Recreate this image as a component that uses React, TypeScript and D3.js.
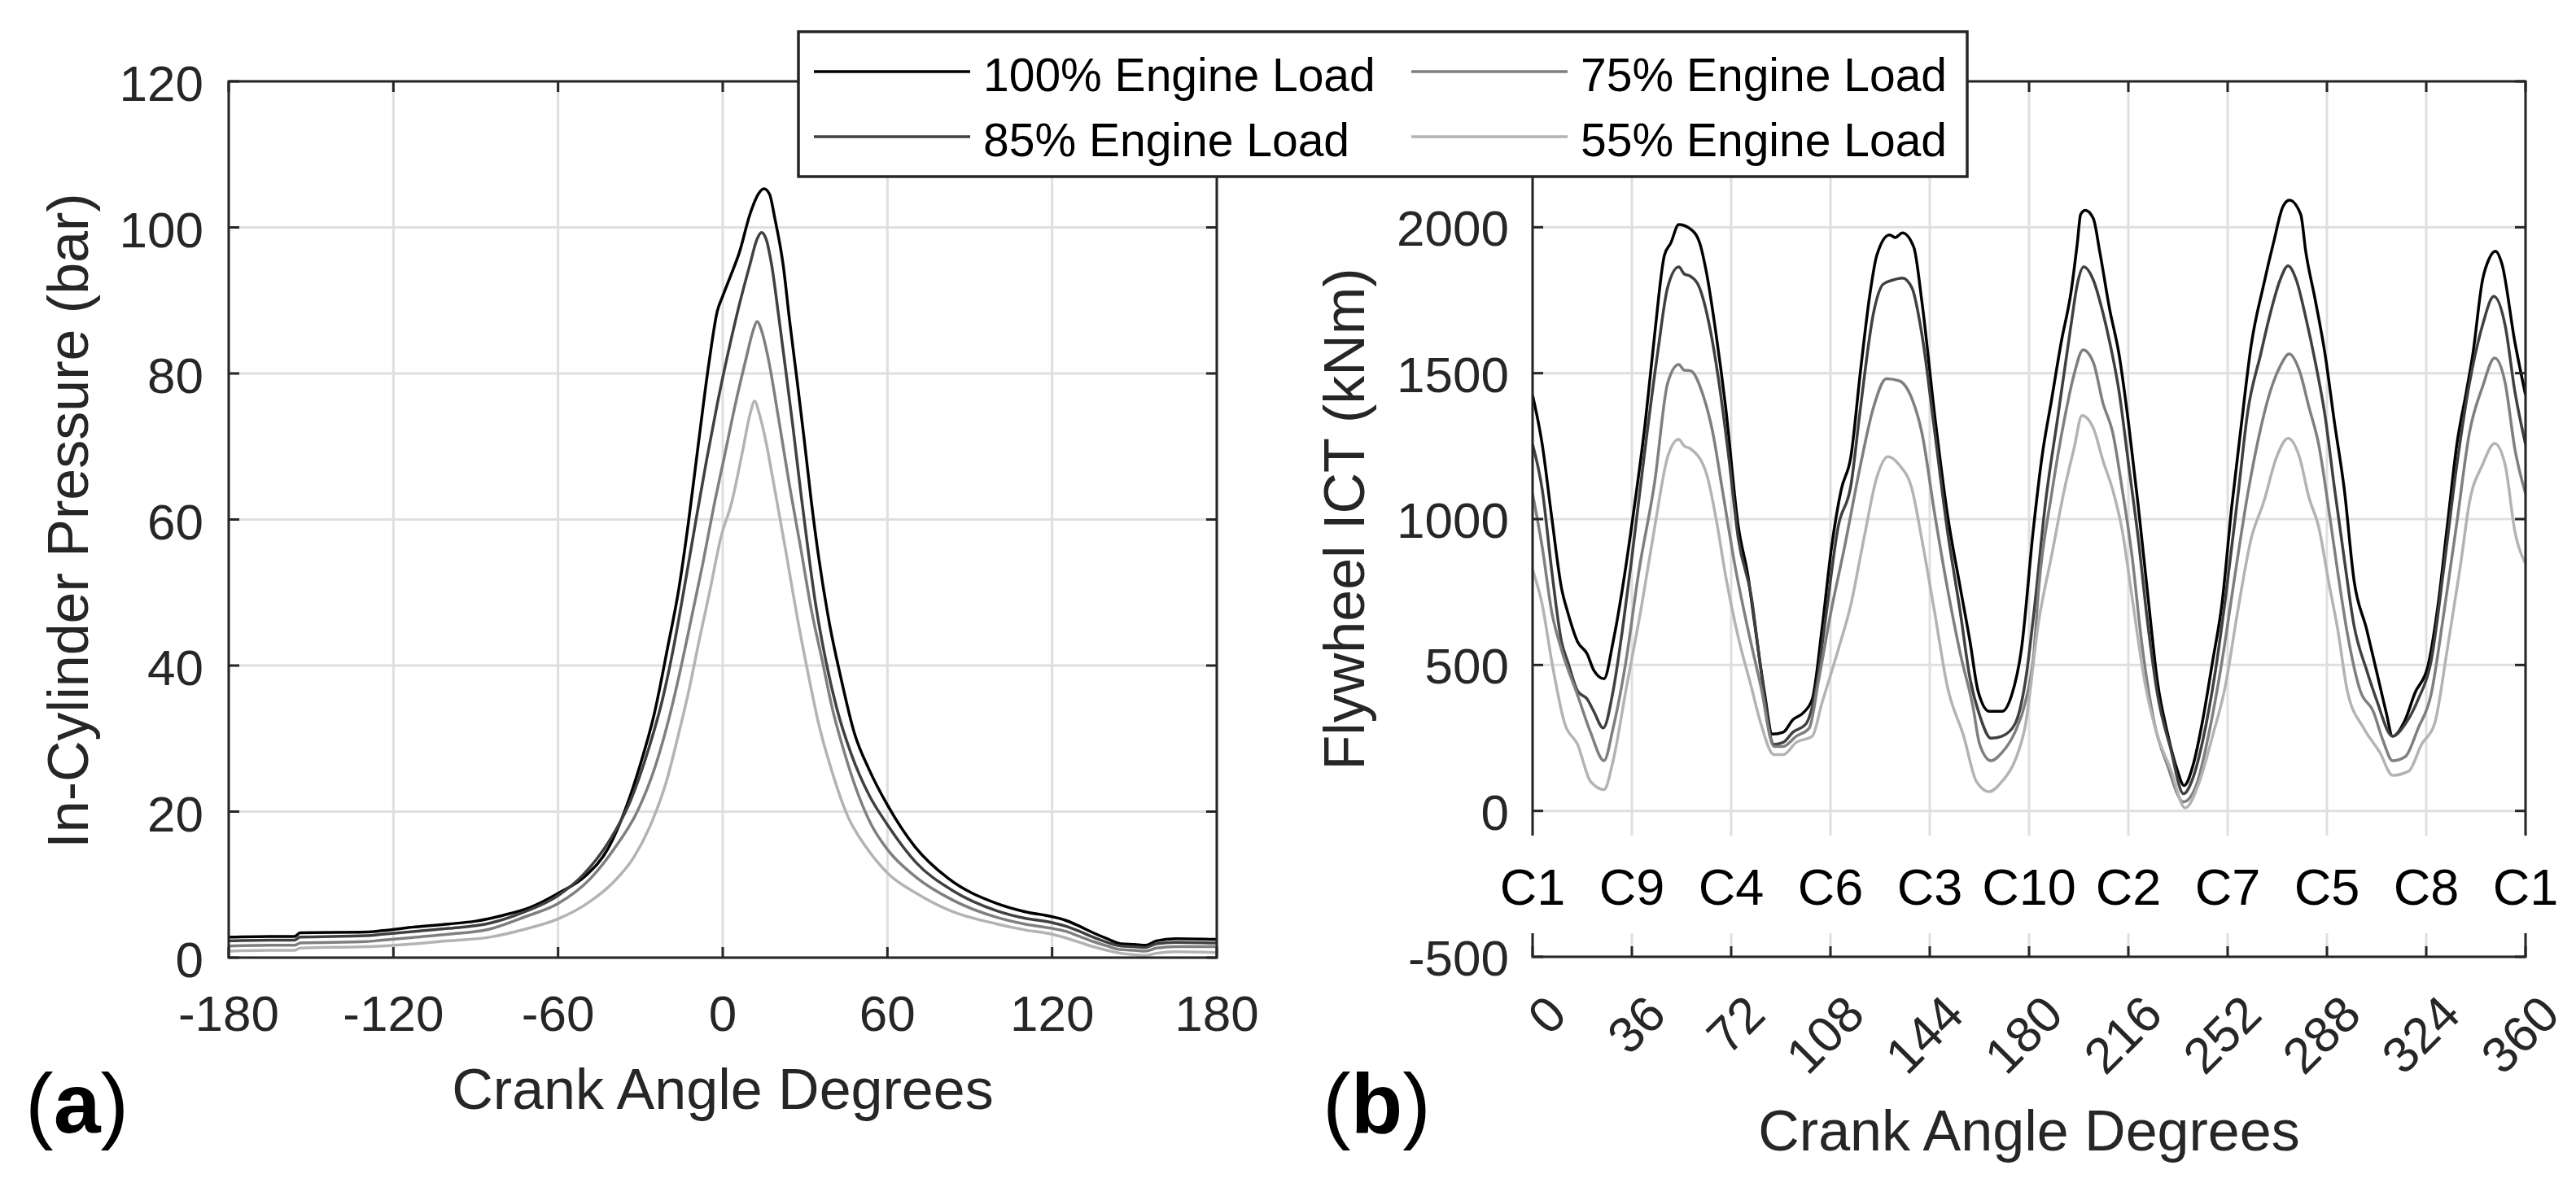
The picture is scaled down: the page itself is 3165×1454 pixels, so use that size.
import React from 'react';
import * as d3 from 'd3';

const W = 3165;
const H = 1454;
const FONT = '"Liberation Sans", Arial, Helvetica, sans-serif';
const AX = '#262626';
const GRID = '#dfdfdf';

// ---------- legend / series ----------
const loadNames = ['100% Engine Load', '85% Engine Load', '75% Engine Load', '55% Engine Load'];
const loadColors = ['#000000', '#404040', '#7f7f7f', '#b3b3b3'];

// ---------- panel (a): in-cylinder pressure (bar) vs crank angle ----------
const angleTicksA = [-180, -120, -60, 0, 60, 120, 180];
const pressureTicks = [0, 20, 40, 60, 80, 100, 120];

const pressure100: [number, number][] = [
  [-180, 2.8], [-165, 2.9], [-156, 2.9], [-154, 3.4], [-130, 3.5], [-124, 3.7], [-112, 4.2], [-100, 4.6],
  [-90, 5.0], [-80, 5.8], [-70, 6.9], [-60, 8.8], [-50, 11.2], [-42, 14.8], [-35, 20.8], [-30, 26.5],
  [-25, 33.3], [-20, 42.6], [-16, 50.5], [-12.5, 59.6], [-9, 70], [-5, 81.5], [-2, 88.5], [0, 90.6],
  [3, 93.5], [6, 96.5], [10, 101.9], [13, 104.6], [15, 105.3], [17, 104.6], [19, 101.2], [22, 94.9],
  [24.4, 87.1], [27, 79.3], [29.7, 70.9], [32.3, 62.4], [35, 54.7], [39, 45.5], [43, 38.4], [48, 30.7],
  [53.4, 25.7], [60, 20.9], [70, 15.2], [82, 10.9], [100, 7.4], [110, 6.3], [120, 5.6], [125, 5.1],
  [130, 4.3], [135, 3.4], [140, 2.6], [145, 1.9], [150, 1.8], [154, 1.7], [158, 2.3], [165, 2.6], [180, 2.5],
];
const pressure85: [number, number][] = [
  [-180, 2.3], [-165, 2.4], [-156, 2.4], [-154, 2.8], [-130, 3.0], [-124, 3.2], [-112, 3.6], [-100, 4.0],
  [-85, 4.7], [-72, 6.3], [-60, 8.5], [-51, 11.3], [-41.5, 15.9], [-33.6, 21.5], [-27, 28.6], [-21.8, 35.6],
  [-17.8, 42.7], [-13.8, 51.1], [-9.9, 59.6], [-5.9, 68.1], [-2, 75.8], [2, 82.9], [5.9, 89.2], [9.9, 94.9],
  [12.5, 98.4], [14.1, 99.3], [15.8, 98.4], [17.8, 94.9], [20.4, 87.8], [23.1, 80], [25.7, 72.3], [28.4, 63.8],
  [31, 56.1], [33.6, 49], [37.6, 40.6], [41.5, 34.2], [46.8, 27.9], [53.4, 22.2], [60, 18.2], [70.5, 13],
  [83.7, 9.2], [100, 6.4], [110, 5.4], [120, 4.8], [125, 4.3], [130, 3.6], [135, 2.8], [140, 2.1],
  [145, 1.6], [150, 1.5], [154, 1.4], [158, 1.9], [165, 2.1], [180, 2.0],
];
const pressure75: [number, number][] = [
  [-180, 1.6], [-165, 1.7], [-156, 1.7], [-154, 2.0], [-130, 2.2], [-124, 2.4], [-112, 2.8], [-100, 3.2],
  [-85, 3.9], [-72, 5.6], [-60, 7.4], [-48, 10.9], [-39, 15.2], [-31, 20.1], [-24.4, 26.4], [-19.1, 33.5],
  [-15.2, 39.8], [-11.2, 46.9], [-7.3, 53.9], [-3.3, 61.7], [0.7, 68.8], [4.6, 75.8], [8.6, 82.2], [11, 85.8],
  [12.5, 87.1], [14.2, 85.8], [16.5, 82.2], [20.4, 73.7], [24.4, 64.5], [28.4, 56.1], [32.3, 47.6], [36.3, 40.6],
  [40, 34], [44, 28.5], [49.5, 22.2], [54, 18.3], [60, 14.8], [70.5, 11], [83.7, 7.9], [100, 5.5],
  [110, 4.6], [120, 4.0], [125, 3.6], [130, 2.9], [135, 2.2], [140, 1.6], [145, 1.1], [150, 1.0],
  [154, 0.9], [158, 1.3], [165, 1.5], [180, 1.5],
];
const pressure55: [number, number][] = [
  [-180, 0.9], [-165, 1.0], [-156, 1.0], [-154, 1.3], [-130, 1.5], [-124, 1.6], [-112, 1.9], [-100, 2.3],
  [-85, 2.8], [-72, 3.9], [-60, 5.3], [-49.5, 7.4], [-40.2, 10.2], [-32.3, 13.8], [-25.7, 18.7], [-20.4, 24.3],
  [-16.5, 30], [-12.5, 36.3], [-8.6, 43.4], [-4.6, 50.4], [-0.7, 57.5], [3.3, 62.4], [7.3, 69.5], [10, 74.5],
  [11.6, 76.2], [13.3, 74.5], [15.2, 71.6], [19.1, 63.8], [23.1, 55.4], [27, 46.9], [31, 39.1], [34.9, 32.1],
  [40.2, 25], [45.5, 19.4], [52.1, 15.2], [60, 11.6], [70.6, 8.8], [83.7, 6.3], [100, 4.6], [110, 3.8],
  [120, 3.2], [125, 2.7], [130, 2.1], [135, 1.5], [140, 1.0], [145, 0.6], [150, 0.4], [154, 0.3],
  [158, 0.6], [165, 0.8], [180, 0.7],
];

// ---------- panel (b): flywheel ICT (kNm) vs crank angle ----------
const angleTicksB = [0, 36, 72, 108, 144, 180, 216, 252, 288, 324, 360];
const torqueTicks = [-500, 0, 500, 1000, 1500, 2000, 2500];
const cylinderLabels = ['C1', 'C9', 'C4', 'C6', 'C3', 'C10', 'C2', 'C7', 'C5', 'C8', 'C1'];

const torque100: [number, number][] = [
  [0, 1425], [3.5, 1256], [7, 1002], [10.5, 763], [12.8, 679], [16.3, 580], [19.8, 538], [22.2, 482],
  [25.9, 453], [29.2, 580], [32.6, 763], [36.1, 988], [40.8, 1326], [44.3, 1636], [47.8, 1904], [50.1, 1946],
  [53, 2009], [57.1, 1995], [60.6, 1946], [63, 1847], [66.5, 1636], [70, 1383], [74.6, 974], [78.1, 805],
  [80.4, 650], [84, 411], [86.9, 263], [90.9, 270], [94.4, 313], [97.9, 334], [101.4, 383], [104.9, 622],
  [108.4, 904], [111.9, 1101], [115.4, 1214], [118.9, 1509], [122.4, 1777], [124.8, 1904], [129.4, 1974],
  [131.5, 1965], [134.1, 1981], [138.2, 1932], [141.1, 1749], [145.8, 1355], [150.4, 1017], [155.1, 763],
  [158.6, 580], [161.5, 411], [165.6, 341], [170.2, 341], [173.7, 397], [177.2, 552], [181.5, 960],
  [184.7, 1214], [188.2, 1411], [191.7, 1608], [195.2, 1777], [197.5, 1946], [198.7, 2044], [200.4, 2058],
  [203.3, 2030], [205.6, 1918], [209.2, 1720], [212.6, 1566], [216.1, 1326], [219.6, 1044], [223.1, 735],
  [226.6, 439], [230.1, 270], [233.6, 144], [236.2, 87], [239.5, 158], [243, 313], [246.5, 510], [249.9, 707],
  [253.5, 1044], [257, 1326], [260.5, 1594], [265.1, 1805], [268.6, 1946], [272.1, 2072], [274.4, 2093],
  [278.5, 2044], [280.3, 1918], [283.8, 1749], [287.3, 1566], [290.8, 1326], [294.3, 1101], [297.8, 791],
  [302.4, 622], [305.9, 482], [309.4, 341], [311.8, 256], [316.4, 313], [319.9, 404], [324.6, 496],
  [328.1, 693], [331.6, 974], [335.1, 1256], [338.6, 1439], [340.9, 1566], [344.4, 1819], [346.7, 1890],
  [349.1, 1918], [351.4, 1876], [356.1, 1608], [360, 1425],
];
const torque85: [number, number][] = [
  [0, 1256], [3.5, 1101], [7, 819], [10.5, 580], [12.8, 510], [16.3, 411], [19.8, 383], [22.2, 341],
  [25.6, 284], [29.2, 411], [32.6, 622], [36.1, 876], [40.8, 1242], [45.5, 1580], [48.9, 1791], [53, 1864],
  [55, 1840], [57.1, 1833], [60.6, 1791], [64.1, 1664], [67.6, 1467], [71.1, 1214], [74.6, 932], [79.3, 735],
  [82.8, 482], [87.5, 228], [90.9, 235], [94.4, 270], [99.1, 298], [102.6, 411], [106.1, 650], [110.8, 974],
  [115.4, 1115], [118.9, 1383], [123.6, 1706], [127.1, 1805], [130.6, 1819], [134.1, 1826], [137.6, 1791],
  [141.1, 1636], [145.8, 1298], [150.4, 960], [155.1, 679], [158.6, 453], [162.1, 327], [166.2, 249],
  [170.2, 256], [174.9, 298], [178.6, 440], [182, 700], [185.8, 1044], [190.5, 1355], [195.2, 1664],
  [197.5, 1805], [199.8, 1864], [203.3, 1819], [206.8, 1706], [209.2, 1608], [212.6, 1439], [216.1, 1186],
  [219.6, 932], [223.1, 636], [226.6, 397], [231.3, 214], [236, 59], [239.5, 115], [243, 242], [247.6, 482],
  [251.1, 721], [255.8, 1087], [259.3, 1369], [264, 1566], [267.5, 1706], [271, 1819], [273.9, 1868],
  [276.9, 1819], [280.3, 1692], [283.8, 1537], [287.3, 1355], [290.8, 1101], [294.3, 862], [297.8, 636],
  [302.4, 482], [305.9, 383], [311.8, 256], [316.4, 298], [321.1, 383], [325.7, 510], [330.4, 834],
  [335.1, 1186], [339.7, 1467], [344.4, 1664], [348.5, 1763], [352.6, 1664], [356.1, 1439], [360, 1256],
];
const torque75: [number, number][] = [
  [0, 1087], [3.5, 904], [7, 679], [10.5, 552], [16.3, 397], [21, 270], [25.9, 172], [29.2, 284],
  [33.8, 510], [38.5, 819], [44.3, 1129], [49, 1467], [53, 1530], [55, 1510], [57.1, 1509], [61.8, 1425],
  [65.3, 1298], [68.8, 1101], [73.5, 834], [78.1, 622], [82.8, 425], [87.5, 221], [90.9, 221], [95.6, 256],
  [100.3, 284], [103.8, 453], [108.4, 693], [113.1, 904], [118.9, 1186], [123.6, 1383], [128.3, 1481],
  [132.9, 1474], [137.6, 1411], [141.1, 1298], [145.8, 1017], [150.4, 763], [155.1, 538], [159.7, 355],
  [162.1, 228], [166.2, 172], [170.2, 200], [174.9, 270], [178.6, 370], [181.7, 538], [183.5, 763],
  [188.2, 1087], [192.8, 1341], [196.3, 1495], [199.6, 1580], [203.3, 1537], [206.8, 1397], [210.3, 1298],
  [213.8, 1101], [217.3, 876], [220.8, 580], [225.5, 298], [230.1, 158], [236, 31], [240.6, 87], [245.3, 270],
  [249.9, 510], [254.6, 805], [259.3, 1087], [264, 1312], [267.5, 1439], [271, 1523], [274.3, 1566],
  [278, 1509], [281.5, 1383], [285, 1256], [288.5, 1044], [291.9, 819], [295.4, 608], [300.1, 411],
  [304.8, 341], [308.3, 242], [311.8, 172], [316.4, 186], [321.1, 284], [325.7, 397], [330.4, 679],
  [335.1, 988], [339.7, 1298], [344.4, 1453], [348.8, 1552], [352.6, 1467], [356.1, 1242], [360, 1087],
];
const torque55: [number, number][] = [
  [0, 826], [3.5, 707], [7, 510], [11.7, 298], [16.3, 228], [21, 101], [25.9, 73], [29.2, 172],
  [33.8, 411], [39.6, 707], [44.3, 974], [49, 1214], [53, 1273], [55, 1250], [57.1, 1242], [63, 1157],
  [66.5, 1003], [70, 805], [74.6, 594], [79.3, 425], [82.8, 298], [87.5, 193], [90.9, 193], [95.6, 235],
  [101.4, 256], [104.9, 369], [110.8, 552], [115.4, 707], [120.1, 932], [124.8, 1143], [128.8, 1214],
  [132.9, 1186], [137.6, 1101], [141.1, 932], [145.8, 679], [150.4, 425], [156.3, 256], [160.9, 101],
  [165.6, 66], [170.2, 101], [174.9, 172], [178.6, 290], [183.5, 650], [188.2, 876], [192.8, 1101],
  [196.3, 1242], [199.2, 1355], [203.3, 1312], [206.8, 1200], [210.3, 1101], [213.8, 960], [217.3, 735],
  [222, 439], [226.6, 256], [231.3, 144], [236.6, 10], [241.8, 101], [246.5, 256], [251.1, 425], [255.8, 693],
  [260.5, 932], [265.1, 1059], [269.8, 1214], [273.9, 1277], [278, 1214], [281.5, 1073], [285, 974],
  [288.5, 791], [291.9, 622], [295.4, 411], [301.3, 284], [307.2, 200], [311.8, 122], [317.6, 136],
  [322.3, 228], [327, 298], [331.6, 552], [336.3, 834], [339.7, 1059], [344.4, 1186], [348.8, 1259],
  [352.6, 1186], [356.1, 960], [360, 847],
];

const pressureSeries = [pressure100, pressure85, pressure75, pressure55];
const torqueSeries = [torque100, torque85, torque75, torque55];

// ---------- geometry ----------
const A = { left: 281, right: 1495, top: 100, bottom: 1177 };
const B = { left: 1883, right: 3103, top: 100, bottom: 1176 };
const TICK = 13;
const TICK_FS = 62;
const LABEL_FS = 70;

const xA = d3.scaleLinear().domain([-180, 180]).range([A.left, A.right]);
const yA = d3.scaleLinear().domain([0, 120]).range([A.bottom, A.top]);
const xB = d3.scaleLinear().domain([0, 360]).range([B.left, B.right]);
const yB = d3.scaleLinear().domain([-500, 2500]).range([B.bottom, B.top]);

function Box({ r, xs, ys, xt, yt }: any) {
  return (
    <g>
      {xt.map((t: number) => (
        <line key={'gx' + t} x1={xs(t)} x2={xs(t)} y1={r.top} y2={r.bottom} stroke={GRID} strokeWidth={3} />
      ))}
      {yt.map((t: number) => (
        <line key={'gy' + t} x1={r.left} x2={r.right} y1={ys(t)} y2={ys(t)} stroke={GRID} strokeWidth={3} />
      ))}
    </g>
  );
}

function Frame({ r, xs, ys, xt, yt }: any) {
  return (
    <g stroke={AX} strokeWidth={3} fill="none">
      <rect x={r.left} y={r.top} width={r.right - r.left} height={r.bottom - r.top} />
      {xt.map((t: number) => (
        <g key={'tx' + t}>
          <line x1={xs(t)} x2={xs(t)} y1={r.bottom} y2={r.bottom - TICK} />
          <line x1={xs(t)} x2={xs(t)} y1={r.top} y2={r.top + TICK} />
        </g>
      ))}
      {yt.map((t: number) => (
        <g key={'ty' + t}>
          <line x1={r.left} x2={r.left + TICK} y1={ys(t)} y2={ys(t)} />
          <line x1={r.right} x2={r.right - TICK} y1={ys(t)} y2={ys(t)} />
        </g>
      ))}
    </g>
  );
}

export default function App() {
  const lineA = d3
    .line<[number, number]>()
    .x((d) => xA(d[0]))
    .y((d) => yA(d[1]))
    .curve(d3.curveMonotoneX);
  const lineB = d3
    .line<[number, number]>()
    .x((d) => xB(d[0]))
    .y((d) => yB(d[1]))
    .curve(d3.curveMonotoneX);

  const legendRows = [
    { col: 0, row: 0, i: 0 },
    { col: 0, row: 1, i: 1 },
    { col: 1, row: 0, i: 2 },
    { col: 1, row: 1, i: 3 },
  ];
  const legX = [1000, 1734];
  const legY = [88, 168];

  return (
    <div style={{ position: 'absolute', left: 0, top: 0, width: W, height: H, background: '#fff' }}>
      <svg width={W} height={H} viewBox={`0 0 ${W} ${H}`} style={{ display: 'block' }} fontFamily={FONT}>
        <defs>
          <clipPath id="clipA">
            <rect x={A.left} y={A.top} width={A.right - A.left} height={A.bottom - A.top} />
          </clipPath>
          <clipPath id="clipB">
            <rect x={B.left} y={B.top} width={B.right - B.left} height={B.bottom - B.top} />
          </clipPath>
        </defs>
        <rect x={0} y={0} width={W} height={H} fill="#fff" />

        {/* ---------------- panel (a) ---------------- */}
        <Box r={A} xs={xA} ys={yA} xt={angleTicksA} yt={pressureTicks} />
        <g clipPath="url(#clipA)" fill="none" strokeWidth={3.5} strokeLinejoin="round">
          {pressureSeries.map((s, i) => (
            <path key={'pa' + i} d={lineA(s) || ''} stroke={loadColors[i]} />
          ))}
        </g>
        <Frame r={A} xs={xA} ys={yA} xt={angleTicksA} yt={pressureTicks} />
        <g fontSize={TICK_FS} fill={AX}>
          {angleTicksA.map((t) => (
            <text key={'la' + t} x={xA(t)} y={1267} textAnchor="middle">
              {t}
            </text>
          ))}
          {pressureTicks.map((t) => (
            <text key={'lpa' + t} x={A.left - 31} y={yA(t) + 24} textAnchor="end">
              {t}
            </text>
          ))}
        </g>
        <text x={888} y={1363} textAnchor="middle" fontSize={LABEL_FS} fill={AX}>
          Crank Angle Degrees
        </text>
        <text
          transform={`translate(108, 640) rotate(-90)`}
          textAnchor="middle"
          fontSize={LABEL_FS}
          fill={AX}
        >
          In-Cylinder Pressure (bar)
        </text>
        <text x={31} y={1392} fontSize={104} fill="#000">
          <tspan>(</tspan>
          <tspan fontWeight="bold">a</tspan>
          <tspan>)</tspan>
        </text>

        {/* ---------------- panel (b) ---------------- */}
        <Box r={B} xs={xB} ys={yB} xt={angleTicksB} yt={torqueTicks} />
        <g clipPath="url(#clipB)" fill="none" strokeWidth={3.5} strokeLinejoin="round">
          {torqueSeries.map((s, i) => (
            <path key={'pb' + i} d={lineB(s) || ''} stroke={loadColors[i]} />
          ))}
        </g>
        <Frame r={B} xs={xB} ys={yB} xt={angleTicksB} yt={torqueTicks} />
        <g fontSize={TICK_FS} fill={AX}>
          {torqueTicks.map((t) => (
            <text key={'lpb' + t} x={B.left - 29} y={yB(t) + 23} textAnchor="end">
              {t}
            </text>
          ))}
          {angleTicksB.map((t) => (
            <text
              key={'lb' + t}
              transform={`translate(${xB(t) + 45}, 1250) rotate(-45)`}
              textAnchor="end"
            >
              {t}
            </text>
          ))}
        </g>
        {/* cylinder firing labels on a white band */}
        <rect x={1845} y={1027} width={1300} height={120} fill="#fff" />
        <g fontSize={63} fill="#000">
          {cylinderLabels.map((c, i) => (
            <text key={'c' + i} x={xB(angleTicksB[i])} y={1112} textAnchor="middle">
              {c}
            </text>
          ))}
        </g>
        <text x={2493} y={1414} textAnchor="middle" fontSize={LABEL_FS} fill={AX}>
          Crank Angle Degrees
        </text>
        <text
          transform={`translate(1676, 638) rotate(-90)`}
          textAnchor="middle"
          fontSize={LABEL_FS}
          fill={AX}
        >
          Flywheel ICT (kNm)
        </text>
        <text x={1625} y={1392} fontSize={104} fill="#000">
          <tspan>(</tspan>
          <tspan fontWeight="bold">b</tspan>
          <tspan>)</tspan>
        </text>

        {/* ---------------- legend ---------------- */}
        <rect x={981} y={39} width={1436} height={178} fill="#fff" stroke={AX} strokeWidth={3.5} />
        {legendRows.map((e) => (
          <g key={'lg' + e.i}>
            <line
              x1={legX[e.col]}
              x2={legX[e.col] + 192}
              y1={legY[e.row]}
              y2={legY[e.row]}
              stroke={loadColors[e.i]}
              strokeWidth={3.5}
            />
            <text x={legX[e.col] + 208} y={legY[e.row] + 24} fontSize={57} fill="#000">
              {loadNames[e.i]}
            </text>
          </g>
        ))}
      </svg>
    </div>
  );
}
